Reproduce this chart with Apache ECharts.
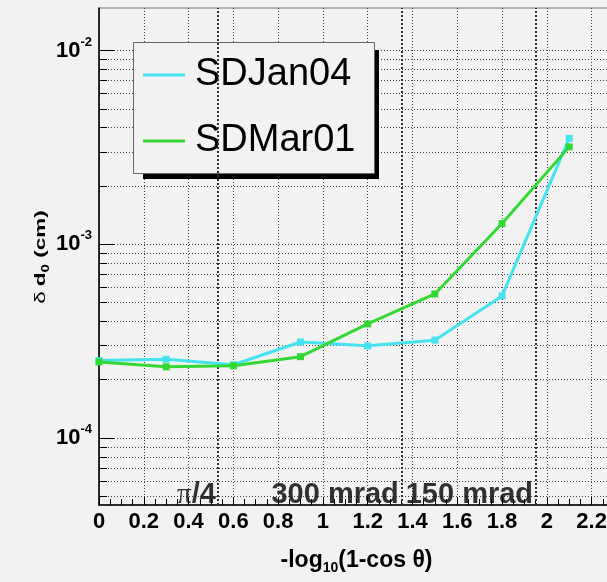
<!DOCTYPE html>
<html>
<head>
<meta charset="utf-8">
<script src="https://cdn.jsdelivr.net/npm/echarts@6/dist/echarts.min.js"></script>
<style>
  html, body { margin: 0; padding: 0; background: #f2f2f2; }
  #chart { width: 607px; height: 582px; }
</style>
</head>
<body>
<div id="chart"></div>
<script>
// Impact-parameter resolution vs polar angle for two detector setups
const xValues = [0, 0.3, 0.6, 0.9, 1.2, 1.5, 1.8, 2.1];
const sdJan04 = [2.51e-4, 2.55e-4, 2.39e-4, 3.13e-4, 2.99e-4, 3.20e-4, 5.41e-4, 3.52e-3];
const sdMar01 = [2.47e-4, 2.33e-4, 2.36e-4, 2.63e-4, 3.88e-4, 5.54e-4, 1.28e-3, 3.18e-3];
const seriesNames = ['SDJan04', 'SDMar01'];
const seriesColors = ['#45e2f0', '#34d834'];

// reference angles marked on the x axis (x = -log10(1 - cos theta))
const markAngles = [Math.PI / 4, 0.300, 0.150];
const markLabels = ['{p|π}{t|/4}', '{t|300 mrad}', '{t|150 mrad}'];

// axis ranges and log-grid decades
const X_MIN = 0, X_MAX = 2.3, X_STEP = 0.2;
const Y_MIN = 4.514e-5, Y_MAX = 1.656e-2;
const yDecades = [-5, -4, -3, -2];
const yMultipliers = [1, 2, 3, 4, 5, 6, 7, 8, 9];

const FONT = "'Liberation Sans', Arial, Helvetica, sans-serif";
const GRID_COLOR = '#444';

const gridVals = [];
yDecades.forEach(d => yMultipliers.forEach(m => {
  const v = m * Math.pow(10, d);
  if (v > Y_MIN && v < Y_MAX) gridVals.push({ v: v, major: m === 1 });
}));
const angleX = markAngles.map(t => -Math.log10(1 - Math.cos(t)));

const chart = echarts.init(document.getElementById('chart'), null, { renderer: 'canvas' });

chart.setOption({
  backgroundColor: '#f2f2f2',
  animation: false,
  grid: {
    left: 99, right: -7, top: 8, bottom: 77,
    outerBoundsMode: 'none',
    show: true, borderColor: '#777', borderWidth: 1, backgroundColor: 'transparent'
  },
  xAxis: {
    type: 'value', min: X_MIN, max: X_MAX, interval: X_STEP,
    axisLine: { onZero: false, lineStyle: { color: '#000', width: 1.5 } },
    axisTick: { inside: true, length: 8, lineStyle: { color: '#000' } },
    minorTick: { show: true, splitNumber: 4, length: 6, lineStyle: { color: '#000' } },
    splitLine: { show: true, lineStyle: { color: GRID_COLOR, width: 1, type: [1, 2] } },
    axisLabel: {
      margin: 6, color: '#000', fontSize: 22, fontWeight: 'bold', fontFamily: FONT,
      showMaxLabel: false,
      formatter: v => String(Number(v.toFixed(1)))
    },
    name: '{b|-log}{s|10}{b|(1-cos θ)}',
    nameLocation: 'middle', nameGap: 44,
    nameTextStyle: {
      rich: {
        b: { fontSize: 23, fontWeight: 'bold', fontFamily: FONT, color: '#000', lineHeight: 23, verticalAlign: 'top' },
        s: { fontSize: 14, fontWeight: 'bold', fontFamily: FONT, color: '#000', lineHeight: 14, verticalAlign: 'top', padding: [12, 0, 0, 0] }
      }
    }
  },
  yAxis: {
    type: 'log', logBase: 10, min: Y_MIN, max: Y_MAX,
    axisLine: { show: true, onZero: false, lineStyle: { color: '#000', width: 1.5 } },
    axisTick: { show: false },
    splitLine: { show: false },
    axisLabel: {
      margin: 7,
      formatter: v => {
        const e = Math.log10(v), r = Math.round(e);
        if (Math.abs(e - r) > 1e-6) return '';
        return '{b|10}{s|' + r + '}';
      },
      rich: {
        b: { fontSize: 22, fontWeight: 'bold', fontFamily: FONT, color: '#000', lineHeight: 22, verticalAlign: 'top' },
        s: { fontSize: 13, fontWeight: 'bold', fontFamily: FONT, color: '#000', lineHeight: 13, verticalAlign: 'top', padding: [-4, 0, 0, 0] }
      }
    }
  },
  legend: {
    data: seriesNames, orient: 'vertical', left: 143, top: 55, padding: 0,
    itemWidth: 42, itemHeight: 3, itemGap: 26, icon: 'rect', selectedMode: false,
    textStyle: { fontSize: 38, fontFamily: FONT, color: '#000', lineHeight: 40, padding: [0, 0, 0, 5] },
    z: 5
  },
  graphic: {
    elements: [
      // legend box with its drop shadow
      { type: 'rect', z: 3, shape: { x: 143, y: 50, width: 236, height: 129 }, style: { fill: '#000' } },
      { type: 'rect', z: 3, shape: { x: 133.5, y: 42.5, width: 241, height: 131 }, style: { fill: '#f2f2f2', stroke: '#666', lineWidth: 1 } },
      // y axis title, stretched along its length
      {
        type: 'text', x: 41, y: 257, rotation: Math.PI / 2, scaleX: 1.5, scaleY: 1, z: 5,
        style: {
          text: '{d|δ} {b|d}{s|0}{b| (cm)}', align: 'center', verticalAlign: 'middle',
          rich: {
            d: { fontSize: 15, fontFamily: FONT, fill: '#000', lineHeight: 15, verticalAlign: 'top' },
            b: { fontSize: 15, fontWeight: 'bold', fontFamily: FONT, fill: '#000', lineHeight: 15, verticalAlign: 'top' },
            s: { fontSize: 10, fontWeight: 'bold', fontFamily: FONT, fill: '#000', lineHeight: 10, verticalAlign: 'top', padding: [8, 0, 0, 0] }
          }
        }
      }
    ]
  },
  series: [
    {
      type: 'lines', name: 'hgrid', coordinateSystem: 'cartesian2d', silent: true, animation: false,
      lineStyle: { color: GRID_COLOR, width: 1, type: [1, 2], opacity: 1 },
      data: gridVals.map(g => ({ coords: [[X_MIN, g.v], [X_MAX, g.v]] })),
      z: 1
    },
    {
      type: 'lines', name: 'yticks', coordinateSystem: 'cartesian2d', silent: true, animation: false,
      lineStyle: { color: '#000', width: 1, type: 'solid', opacity: 1 },
      data: gridVals.map(g => ({ coords: [[X_MIN, g.v], [g.major ? 0.067 : 0.036, g.v]] })),
      z: 2
    },
    {
      type: 'line', name: 'angles', data: [], silent: true, animation: false,
      markLine: {
        silent: true, symbol: 'none', label: { show: false },
        lineStyle: { color: '#333', width: 2, type: [2, 2] },
        data: angleX.map(x => ({ xAxis: x }))
      }
    },
    {
      type: 'scatter', name: 'angleLabels', silent: true, animation: false,
      symbolSize: 1, itemStyle: { color: 'transparent' },
      data: angleX.map((x, i) => ({ value: [x, Y_MIN], label: { formatter: markLabels[i] } })),
      label: {
        show: true, position: [-2, 5], align: 'right', verticalAlign: 'bottom',
        rich: {
          p: { fontSize: 29, fontFamily: "'Liberation Serif', 'DejaVu Serif', serif", color: '#000', lineHeight: 29 },
          t: { fontSize: 29, fontWeight: 'bold', fontFamily: FONT, color: '#000', lineHeight: 29 }
        }
      }
    },
    {
      type: 'line', name: seriesNames[0], color: seriesColors[0],
      data: xValues.map((x, i) => [x, sdJan04[i]]),
      symbol: 'rect', symbolSize: 7, showAllSymbol: true,
      lineStyle: { width: 3, color: seriesColors[0] }, itemStyle: { color: seriesColors[0] },
      z: 6
    },
    {
      type: 'line', name: seriesNames[1], color: seriesColors[1],
      data: xValues.map((x, i) => [x, sdMar01[i]]),
      symbol: 'rect', symbolSize: 7, showAllSymbol: true,
      lineStyle: { width: 3, color: seriesColors[1] }, itemStyle: { color: seriesColors[1] },
      z: 7
    }
  ]
});
</script>
</body>
</html>
